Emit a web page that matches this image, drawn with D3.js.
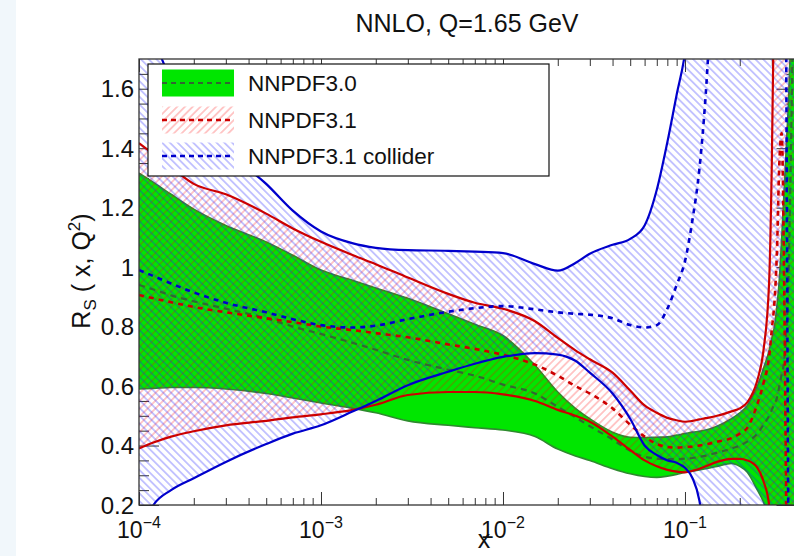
<!DOCTYPE html>
<html><head><meta charset="utf-8">
<script src="https://cdn.jsdelivr.net/npm/d3@7"></script>
<style>
body{margin:0;background:#fff}
svg{display:block}
text{font-family:"Liberation Sans",Arial,Helvetica,sans-serif;fill:#111}
</style>
</head><body>
<svg id="chart" width="794" height="556"></svg>
<script>
// ---------------- DATA ----------------
const xGrid = [1e-4,1.2e-4,1.5e-4,2e-4,3e-4,5e-4,7e-4,1e-3,1.5e-3,2e-3,3e-3,5e-3,7e-3,1e-2,1.5e-2,2e-2,2.5e-2,3e-2,4e-2,5e-2,6e-2,7e-2,8e-2,9e-2,0.1,0.11,0.12,0.13,0.15,0.18,0.2,0.22,0.25,0.27,0.29,0.30,0.31,0.32,0.33,0.34,0.35,0.36,0.37,0.38,0.40];

const nnpdf30Upper = [1.316,1.285,1.245,1.195,1.14,1.085,1.04,0.99,0.955,0.93,0.895,0.843,0.808,0.77,0.67,0.58,0.525,0.49,0.445,0.428,0.427,0.428,0.429,0.435,0.44,0.445,0.448,0.452,0.465,0.49,0.51,0.535,0.60,0.66,0.72,0.76,0.80,0.87,0.96,1.1,1.25,1.4,1.55,1.75,2.3];
const nnpdf30Lower = [0.59,0.592,0.595,0.595,0.59,0.575,0.56,0.543,0.525,0.51,0.483,0.468,0.46,0.452,0.43,0.388,0.365,0.35,0.322,0.305,0.296,0.293,0.297,0.303,0.31,0.314,0.318,0.322,0.33,0.34,0.33,0.31,0.25,0.21,0.15,0.1,0.0,-0.5,-0.5,-0.5,-0.5,-0.5,-0.5,-0.5,-0.5];
const nnpdf30Central = [0.94,0.925,0.905,0.885,0.86,0.828,0.80,0.775,0.745,0.722,0.688,0.655,0.635,0.605,0.575,0.53,0.495,0.465,0.42,0.382,0.362,0.356,0.354,0.354,0.356,0.358,0.362,0.366,0.376,0.39,0.40,0.413,0.44,0.47,0.5,0.52,0.54,0.56,0.6,0.64,0.68,0.78,0.95,1.3,2.2];

const nnpdf31Upper = [1.417,1.38,1.335,1.28,1.245,1.18,1.13,1.085,1.04,1.01,0.965,0.91,0.88,0.86,0.818,0.762,0.72,0.69,0.645,0.585,0.535,0.51,0.493,0.485,0.48,0.483,0.488,0.492,0.50,0.515,0.525,0.545,0.62,0.72,0.95,1.35,2.0,3,3,3,3,3,3,3,3];
const nnpdf31Lower = [0.39,0.41,0.43,0.448,0.468,0.483,0.495,0.505,0.52,0.537,0.57,0.58,0.58,0.572,0.55,0.52,0.50,0.48,0.43,0.385,0.35,0.33,0.318,0.312,0.31,0.315,0.322,0.33,0.345,0.355,0.355,0.35,0.325,0.28,0.2,0.1,-0.2,-1,-1,-1,-1,-1,-1,-1,-1];
const nnpdf31Central = [0.906,0.895,0.882,0.866,0.848,0.828,0.815,0.80,0.788,0.778,0.764,0.74,0.725,0.705,0.672,0.635,0.60,0.575,0.525,0.47,0.43,0.405,0.395,0.393,0.395,0.397,0.40,0.404,0.413,0.425,0.44,0.46,0.54,0.61,0.70,0.79,0.88,1.05,1.35,1.45,1.0,0.2,-0.5,-0.5,-0.5];

const colliderUpper = [2.3,1.82,1.63,1.5,1.39,1.28,1.19,1.12,1.08,1.065,1.057,1.055,1.052,1.047,1.01,0.988,1.014,1.045,1.075,1.095,1.14,1.26,1.42,1.58,1.72,1.95,2.3,3,3,3,3,3,3,3,3,3,3,3,3,3,3,3,3,3,3];
const colliderLower = [0.10,0.20,0.25,0.29,0.345,0.405,0.44,0.468,0.515,0.55,0.603,0.648,0.675,0.698,0.711,0.706,0.685,0.645,0.575,0.49,0.40,0.368,0.35,0.342,0.325,0.29,0.215,0.05,-0.5,-1,-1,-1,-1,-1,-1,-1,-1,-1,-1,-1,-1,-1,-1,-1,-1];
const colliderCentral = [0.99,0.97,0.945,0.915,0.88,0.848,0.825,0.805,0.797,0.803,0.825,0.85,0.862,0.869,0.858,0.848,0.843,0.84,0.828,0.805,0.797,0.805,0.86,0.94,1.02,1.16,1.33,1.58,2.3,3,3,3,3,3,3,3,3,3,3,3,3,1.7,0.1,-0.5,-0.5];

const yTicks = [0.2,0.4,0.6,0.8,1.0,1.2,1.4,1.6];
const yTickLabels = ["0.2","0.4","0.6","0.8","1","1.2","1.4","1.6"];
const xTickExponents = [-4,-3,-2,-1];
const legendLabels = ["NNPDF3.0","NNPDF3.1","NNPDF3.1 collider"];
const titleText = "NNLO, Q=1.65 GeV";

// ---------------- LAYOUT ----------------
const svg = d3.select("#chart");
const L = 139, R = 796.5, T = 59, B = 505;
const x = d3.scaleLog().domain([1e-4, 0.41]).range([L, R]);
const y = d3.scaleLinear().domain([0.2, 1.7]).range([B, T]);

const COL = {
  green: "#00e600", greenEdge: "#2e8b2e", greenDash: "#336633",
  red: "#cc0000", blue: "#0000cc"
};

// light left strip of the page
svg.append("rect").attr("x",0).attr("y",0).attr("width",16).attr("height",556).attr("fill","#f1f7fb");

const defs = svg.append("defs");
defs.append("clipPath").attr("id","plotClip").append("rect")
  .attr("x",L).attr("y",T).attr("width",R-L).attr("height",B-T);

function hatch(id, angle, color, op){
  const s = 5.5;
  const p = defs.append("pattern").attr("id",id).attr("patternUnits","userSpaceOnUse")
    .attr("width",s).attr("height",s).attr("patternTransform",`rotate(${angle})`);
  p.append("line").attr("x1",s/2).attr("y1",-1).attr("x2",s/2).attr("y2",s+1)
    .attr("stroke",color).attr("stroke-opacity",op).attr("stroke-width",1);
}
hatch("hatchRed", 45, "#ff0000", 0.42);
hatch("hatchBlue", -45, "#1a1aff", 0.5);

// ---------------- AXES (ticks under data) ----------------
const xMajor = xTickExponents.map(e => Math.pow(10, e));
const xMinor = [];
xTickExponents.forEach(e => { for (let k = 2; k <= 9; k++) { const v = k*Math.pow(10,e); if (v <= 0.41) xMinor.push(v); } });
const yMinor = d3.range(5, 34).filter(i => i % 4 !== 0).map(i => +(i*0.05).toFixed(2));

function axisG(gen, tf){
  const g = svg.append("g").attr("transform", tf).call(gen);
  g.select(".domain").remove();
  g.selectAll("line").attr("stroke","#333").attr("stroke-width",1);
  return g;
}
axisG(d3.axisBottom(x).tickValues(xMajor).tickSize(-13).tickFormat(""), `translate(0,${B})`);
axisG(d3.axisBottom(x).tickValues(xMinor).tickSize(-7).tickFormat(""), `translate(0,${B})`);
axisG(d3.axisTop(x).tickValues(xMajor).tickSize(-13).tickFormat(""), `translate(0,${T})`);
axisG(d3.axisTop(x).tickValues(xMinor).tickSize(-7).tickFormat(""), `translate(0,${T})`);
axisG(d3.axisLeft(y).tickValues(yTicks).tickSize(-20).tickFormat(""), `translate(${L},0)`);
axisG(d3.axisLeft(y).tickValues(yMinor).tickSize(-10).tickFormat(""), `translate(${L},0)`);
axisG(d3.axisRight(y).tickValues(yTicks).tickSize(-20).tickFormat(""), `translate(${R},0)`);
axisG(d3.axisRight(y).tickValues(yMinor).tickSize(-10).tickFormat(""), `translate(${R},0)`);

// ---------------- DATA MARKS ----------------
const plot = svg.append("g").attr("clip-path","url(#plotClip)");
const idx = d3.range(xGrid.length);
const curve = d3.curveMonotoneX;
const area = (lo, hi) => d3.area().curve(curve).x(i => x(xGrid[i])).y0(i => y(lo[i])).y1(i => y(hi[i]))(idx);
const line = (v) => d3.line().curve(curve).x(i => x(xGrid[i])).y(i => y(v[i]))(idx);

plot.append("path").attr("d", area(nnpdf30Lower, nnpdf30Upper)).attr("fill", COL.green);
plot.append("path").attr("d", line(nnpdf30Upper)).attr("fill","none").attr("stroke",COL.greenEdge).attr("stroke-width",1.6);
plot.append("path").attr("d", line(nnpdf30Lower)).attr("fill","none").attr("stroke",COL.greenEdge).attr("stroke-width",1.6);
plot.append("path").attr("d", area(nnpdf31Lower, nnpdf31Upper)).attr("fill","url(#hatchRed)");
plot.append("path").attr("d", area(colliderLower, colliderUpper)).attr("fill","url(#hatchBlue)");

plot.append("path").attr("d", line(nnpdf30Central)).attr("fill","none").attr("stroke",COL.greenDash).attr("stroke-width",2.2).attr("stroke-dasharray","6,5");
plot.append("path").attr("d", line(nnpdf31Upper)).attr("fill","none").attr("stroke",COL.red).attr("stroke-width",2.2);
plot.append("path").attr("d", line(nnpdf31Lower)).attr("fill","none").attr("stroke",COL.red).attr("stroke-width",2.2);
plot.append("path").attr("d", line(nnpdf31Central)).attr("fill","none").attr("stroke",COL.red).attr("stroke-width",2.6).attr("stroke-dasharray","5,5");
plot.append("path").attr("d", line(colliderUpper)).attr("fill","none").attr("stroke",COL.blue).attr("stroke-width",2.2);
plot.append("path").attr("d", line(colliderLower)).attr("fill","none").attr("stroke",COL.blue).attr("stroke-width",2.2);
plot.append("path").attr("d", line(colliderCentral)).attr("fill","none").attr("stroke",COL.blue).attr("stroke-width",2.6).attr("stroke-dasharray","5,5");

// frame
svg.append("rect").attr("x",L).attr("y",T).attr("width",R-L).attr("height",B-T)
  .attr("fill","none").attr("stroke","#333").attr("stroke-width",1.3);

// ---------------- LABELS ----------------
svg.selectAll("text.ytl").data(yTicks).enter().append("text").attr("class","ytl")
  .attr("x", 134).attr("y", d => y(d) + 8.5).attr("text-anchor","end")
  .attr("font-size", 24).text((d,i) => yTickLabels[i]);

xTickExponents.forEach(e => {
  const t = svg.append("text").attr("x", x(Math.pow(10,e))).attr("y", 538)
    .attr("text-anchor","middle").attr("font-size", 23);
  t.append("tspan").text("10");
  t.append("tspan").attr("dy",-10).attr("font-size",16).text("\u2212" + Math.abs(e));
});

svg.append("text").attr("x", 467).attr("y", 32).attr("text-anchor","middle")
  .attr("font-size", 25).text(titleText);

svg.append("text").attr("x", 484).attr("y", 548).attr("text-anchor","middle")
  .attr("font-size", 25).text("x");

const yl = svg.append("text").attr("transform","translate(90,271) rotate(-90)")
  .attr("text-anchor","middle").attr("font-size",25);
yl.append("tspan").text("R");
yl.append("tspan").attr("dy",6).attr("font-size",17).text("S");
yl.append("tspan").attr("dy",-6).text(" ( x, Q");
yl.append("tspan").attr("dy",-10).attr("font-size",17).text("2");
yl.append("tspan").attr("dy",10).text(")");

// ---------------- LEGEND ----------------
const lg = svg.append("g");
lg.append("rect").attr("x",148).attr("y",64).attr("width",401).attr("height",112)
  .attr("fill","#fff").attr("stroke","#111").attr("stroke-width",1.2);
const rowsY = [83, 120, 156];
const swFill = [COL.green, "url(#hatchRed)", "url(#hatchBlue)"];
const swLine = [COL.greenDash, COL.red, COL.blue];
legendLabels.forEach((lab, i) => {
  const cy = rowsY[i];
  lg.append("rect").attr("x",162).attr("y",cy-13.5).attr("width",72).attr("height",27).attr("fill",swFill[i]);
  lg.append("line").attr("x1",162).attr("x2",234).attr("y1",cy).attr("y2",cy)
    .attr("stroke",swLine[i]).attr("stroke-width", i===0 ? 2 : 2.6).attr("stroke-dasharray","5,4");
  lg.append("text").attr("x",248).attr("y",cy+8).attr("font-size",22.5).text(lab);
});
</script>
</body></html>
